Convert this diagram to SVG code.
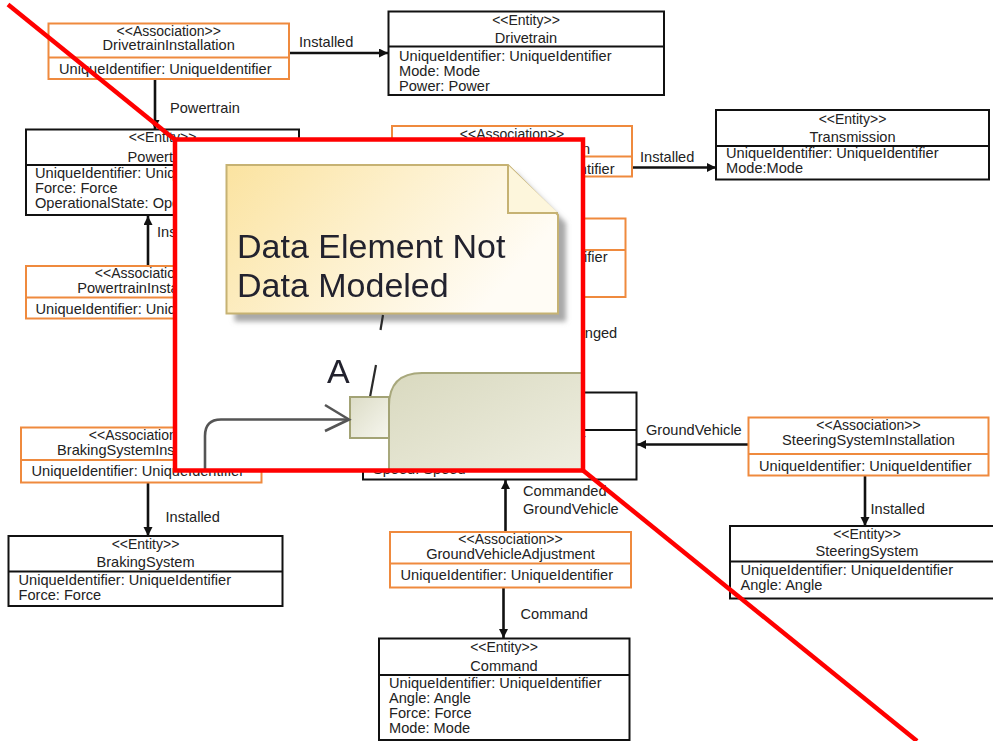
<svg xmlns="http://www.w3.org/2000/svg" width="993" height="741" viewBox="0 0 993 741">
  <defs>
    <style>
      .t { font-family: "Liberation Sans", Arial, sans-serif; font-size: 14.6px; fill: #222; }
      .st { font-size: 14px; }
      .c { text-anchor: middle; }
      .ent rect, .ent line { fill: #fff; stroke: #111; stroke-width: 2; }
      .asc rect, .asc line { fill: #fff; stroke: #ef8a3e; stroke-width: 2; }
      .conn path { fill: none; stroke: #111; stroke-width: 2.6; marker-end: url(#arrow); }
      .big { font-family: "Liberation Sans", Arial, sans-serif; font-size: 34px; fill: #24232e; }
    </style>
    <marker id="arrow" markerUnits="userSpaceOnUse" markerWidth="10" markerHeight="10" refX="9" refY="4.5" orient="auto">
      <path d="M0,0 L9,4.5 L0,9 Z" fill="#111"/>
    </marker>
    <linearGradient id="noteFill" x1="0" y1="0" x2="1" y2="0.4">
      <stop offset="0" stop-color="#fbe3a0"/>
      <stop offset="0.5" stop-color="#fdf0cc"/>
      <stop offset="1" stop-color="#fffcf5"/>
    </linearGradient>
    <linearGradient id="stateFill" x1="0" y1="0" x2="1" y2="1">
      <stop offset="0" stop-color="#d9d9bf"/>
      <stop offset="1" stop-color="#f0f0e4"/>
    </linearGradient>
    <linearGradient id="portFill" x1="0" y1="0" x2="1" y2="1">
      <stop offset="0" stop-color="#dcdcc6"/>
      <stop offset="1" stop-color="#f6f6ee"/>
    </linearGradient>
    <filter id="shadowBlur" x="-10%" y="-10%" width="120%" height="120%">
      <feGaussianBlur stdDeviation="2.5"/>
    </filter>
    <filter id="soft" x="-5%" y="-5%" width="110%" height="110%">
      <feGaussianBlur stdDeviation="0.6"/>
    </filter>
    <clipPath id="insetClip">
      <rect x="175" y="139.5" width="408" height="331"/>
    </clipPath>
  </defs>

  <rect width="993" height="741" fill="#fff"/>

  <!-- connectors -->
  <g id="connectors" class="conn">
    <path d="M289,53 H388"/>
    <path d="M155,79 V129"/>
    <path d="M148,266 V216"/>
    <path d="M632,167.5 H716"/>
    <path d="M545,297 V392"/>
    <path d="M748,444.5 H637"/>
    <path d="M865,476 V526"/>
    <path d="M505.5,532 V480"/>
    <path d="M503.5,588 V638"/>
    <path d="M148,483 V536"/>
  </g>

  <!-- connector labels -->
  <g id="labels" class="t">
    <text x="299" y="47">Installed</text>
    <text x="170" y="113">Powertrain</text>
    <text x="157" y="237">Installed</text>
    <text x="640" y="162">Installed</text>
    <text x="558" y="338">Changed</text>
    <text x="646" y="435">GroundVehicle</text>
    <text x="870.5" y="513.5">Installed</text>
    <text x="523" y="496">Commanded</text>
    <text x="523" y="513.5">GroundVehicle</text>
    <text x="520.5" y="619">Command</text>
    <text x="165.5" y="522">Installed</text>
  </g>

  <!-- nodes -->
  <g id="DrivetrainInstallation" class="asc">
    <rect x="48.5" y="23.5" width="240.5" height="55.5"/>
    <line x1="48.5" y1="57.5" x2="289" y2="57.5"/>
    <text class="t st c" x="168.7" y="35.5">&lt;&lt;Association&gt;&gt;</text>
    <text class="t c" x="168.7" y="50">DrivetrainInstallation</text>
    <text class="t" x="59" y="74">UniqueIdentifier: UniqueIdentifier</text>
  </g>

  <g id="Drivetrain" class="ent">
    <rect x="388.5" y="11.5" width="275.5" height="83.5"/>
    <line x1="388.5" y1="46.5" x2="664" y2="46.5"/>
    <text class="t st c" x="526" y="25">&lt;&lt;Entity&gt;&gt;</text>
    <text class="t c" x="526" y="42.5">Drivetrain</text>
    <text class="t" x="399" y="61">UniqueIdentifier: UniqueIdentifier</text>
    <text class="t" x="399" y="76">Mode: Mode</text>
    <text class="t" x="399" y="91">Power: Power</text>
  </g>

  <g id="Powertrain" class="ent">
    <rect x="26" y="129.5" width="273" height="85.5"/>
    <line x1="26" y1="165" x2="299" y2="165"/>
    <text class="t st c" x="162.5" y="141.5">&lt;&lt;Entity&gt;&gt;</text>
    <text class="t c" x="162.5" y="161.5">Powertrain</text>
    <text class="t" x="35" y="178">UniqueIdentifier: UniqueIdentifier</text>
    <text class="t" x="35" y="193">Force: Force</text>
    <text class="t" x="35" y="208">OperationalState: OperationalState</text>
  </g>

  <g id="PowertrainInstallation" class="asc">
    <rect x="26" y="266" width="242" height="52.5"/>
    <line x1="26" y1="297.5" x2="268" y2="297.5"/>
    <text class="t st c" x="147" y="278">&lt;&lt;Association&gt;&gt;</text>
    <text class="t c" x="147" y="292.5">PowertrainInstallation</text>
    <text class="t" x="35.5" y="314">UniqueIdentifier: UniqueIdentifier</text>
  </g>

  <g id="TransmissionInstallation" class="asc">
    <rect x="392" y="126" width="240" height="50.5"/>
    <line x1="392" y1="156.5" x2="632" y2="156.5"/>
    <text class="t st c" x="512" y="138.5">&lt;&lt;Association&gt;&gt;</text>
    <text class="t c" x="512" y="154">TransmissionInstallation</text>
    <text class="t" x="402" y="174">UniqueIdentifier: UniqueIdentifier</text>
  </g>

  <g id="Transmission" class="ent">
    <rect x="716" y="110" width="273" height="69.5"/>
    <line x1="716" y1="146" x2="989" y2="146"/>
    <text class="t st c" x="852.5" y="124">&lt;&lt;Entity&gt;&gt;</text>
    <text class="t c" x="852.5" y="141.5">Transmission</text>
    <text class="t" x="726" y="158">UniqueIdentifier: UniqueIdentifier</text>
    <text class="t" x="726" y="173">Mode:Mode</text>
  </g>

  <g id="StateAssociation" class="asc">
    <rect x="385" y="218.5" width="240.5" height="78.5"/>
    <line x1="385" y1="250" x2="625.5" y2="250"/>
    <text class="t" x="395" y="262">UniqueIdentifier: UniqueIdentifier</text>
  </g>

  <g id="GroundVehicle" class="ent">
    <rect x="363" y="392.5" width="273.5" height="87"/>
    <line x1="363" y1="430" x2="636.5" y2="430"/>
    <text class="t" x="373" y="443.5">UniqueIdentifier: UniqueIdentifier</text>
    <text class="t" x="373" y="474">Speed: Speed</text>
  </g>

  <g id="SteeringSystemInstallation" class="asc">
    <rect x="748.5" y="417.5" width="240" height="58"/>
    <line x1="748.5" y1="454" x2="988.5" y2="454"/>
    <text class="t st c" x="868.5" y="429.5">&lt;&lt;Association&gt;&gt;</text>
    <text class="t c" x="868.5" y="445">SteeringSystemInstallation</text>
    <text class="t" x="759" y="470.5">UniqueIdentifier: UniqueIdentifier</text>
  </g>

  <g id="SteeringSystem" class="ent">
    <rect x="730" y="526" width="274" height="72.5"/>
    <line x1="730" y1="561.5" x2="1004" y2="561.5"/>
    <text class="t st c" x="867" y="538.5">&lt;&lt;Entity&gt;&gt;</text>
    <text class="t c" x="867" y="556">SteeringSystem</text>
    <text class="t" x="740.5" y="574.5">UniqueIdentifier: UniqueIdentifier</text>
    <text class="t" x="740.5" y="590">Angle: Angle</text>
  </g>

  <g id="GroundVehicleAdjustment" class="asc">
    <rect x="390" y="532" width="241" height="55.5"/>
    <line x1="390" y1="563.5" x2="631" y2="563.5"/>
    <text class="t st c" x="510.5" y="543.5">&lt;&lt;Association&gt;&gt;</text>
    <text class="t c" x="510.5" y="558.5">GroundVehicleAdjustment</text>
    <text class="t" x="400.5" y="580">UniqueIdentifier: UniqueIdentifier</text>
  </g>

  <g id="Command" class="ent">
    <rect x="379" y="638.5" width="250.5" height="101.5"/>
    <line x1="379" y1="675" x2="629.5" y2="675"/>
    <text class="t st c" x="504" y="651.5">&lt;&lt;Entity&gt;&gt;</text>
    <text class="t c" x="504" y="670.5">Command</text>
    <text class="t" x="389" y="688">UniqueIdentifier: UniqueIdentifier</text>
    <text class="t" x="389" y="703">Angle: Angle</text>
    <text class="t" x="389" y="718">Force: Force</text>
    <text class="t" x="389" y="732.5">Mode: Mode</text>
  </g>

  <g id="BrakingSystemInstallation" class="asc">
    <rect x="21" y="427.5" width="240.5" height="55"/>
    <line x1="21" y1="460" x2="261.5" y2="460"/>
    <text class="t st c" x="141" y="440">&lt;&lt;Association&gt;&gt;</text>
    <text class="t c" x="141" y="455">BrakingSystemInstallation</text>
    <text class="t" x="31.5" y="476">UniqueIdentifier: UniqueIdentifier</text>
  </g>

  <g id="BrakingSystem" class="ent">
    <rect x="8.5" y="536" width="274" height="70"/>
    <line x1="8.5" y1="571.5" x2="282.5" y2="571.5"/>
    <text class="t st c" x="145.5" y="548.5">&lt;&lt;Entity&gt;&gt;</text>
    <text class="t c" x="145.5" y="566.5">BrakingSystem</text>
    <text class="t" x="18.5" y="585">UniqueIdentifier: UniqueIdentifier</text>
    <text class="t" x="18.5" y="599.5">Force: Force</text>
  </g>

  <!-- strike-through line -->
  <line id="strike" x1="8" y1="4.5" x2="917" y2="741" stroke="#ff0000" stroke-width="4.5"/>

  <!-- magnified callout -->
  <g id="callout">
    <rect x="175" y="139.5" width="408" height="331" fill="#fff"/>
    <g clip-path="url(#insetClip)">
      <g filter="url(#soft)">
        <path d="M234.5,173 H516 L566,223 V321.5 H234.5 Z" fill="#a8a8a8" filter="url(#shadowBlur)"/>
        <path d="M226.5,165 H508 L558,215 V313.5 H226.5 Z" fill="url(#noteFill)" stroke="#c6b273" stroke-width="2"/>
        <path d="M508,165 V213 H558" fill="#fdf6dc" stroke="#c6b273" stroke-width="2"/>
        <text class="big" x="237" y="258">Data Element Not</text>
        <text class="big" x="237" y="297">Data Modeled</text>
        <line x1="383" y1="315" x2="380.5" y2="330" stroke="#2a2a2a" stroke-width="2.2"/>
        <line x1="376" y1="365" x2="370" y2="397" stroke="#2a2a2a" stroke-width="2.2"/>
        <text class="big" x="327" y="383">A</text>
        <path d="M389,480 V406 Q389,373 422,373 H600 V480 Z" fill="url(#stateFill)" stroke="#a8a87c" stroke-width="2"/>
        <rect x="350" y="397" width="39" height="41" fill="url(#portFill)" stroke="#a3a374" stroke-width="2"/>
        <path d="M205,480 V436 Q205,419.5 221,419.5 H348" fill="none" stroke="#555" stroke-width="2.6"/>
        <path d="M325,405 L349,419.5 L325,431" fill="none" stroke="#555" stroke-width="2.6"/>
      </g>
    </g>
    <rect x="175" y="139.5" width="408" height="331" fill="none" stroke="#ff0000" stroke-width="4.5"/>
  </g>
</svg>
